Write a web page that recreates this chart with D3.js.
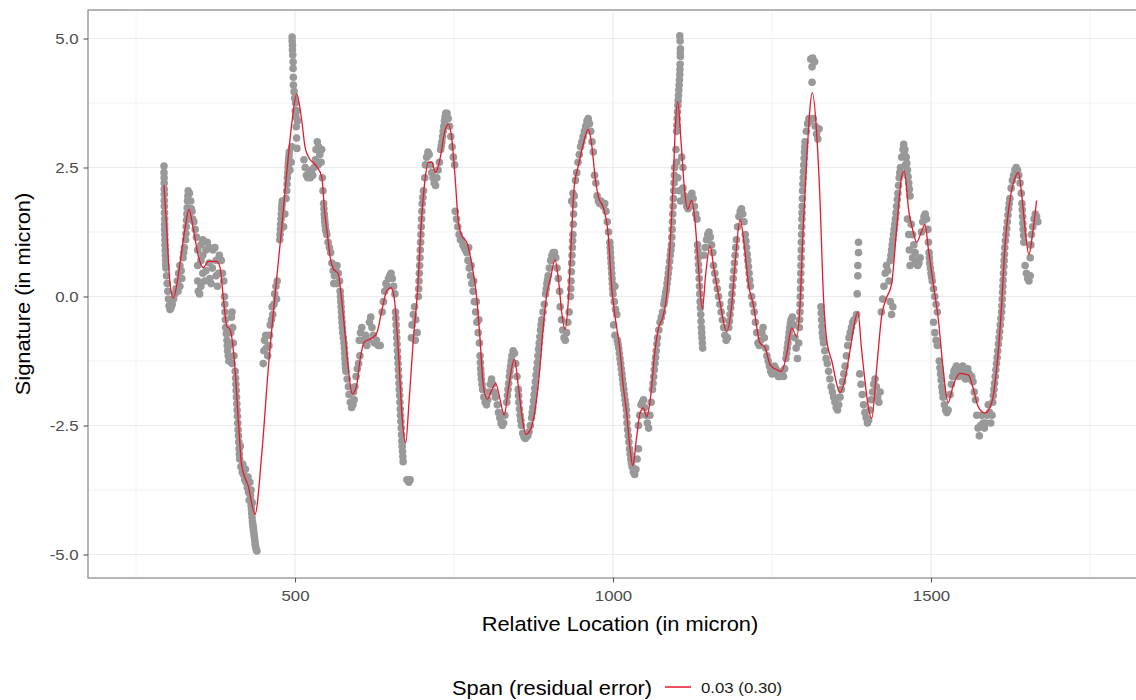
<!DOCTYPE html>
<html><head><meta charset="utf-8">
<script src="https://cdn.jsdelivr.net/npm/d3@7"></script>
<style>body{margin:0;background:#fff}svg{display:block}</style>
</head><body>
<svg id="chart" width="1136" height="700"></svg>
<script>
// ---- data ----
const xTickValues = [500, 1000, 1500];
const xMinorValues = [250, 750, 1250, 1750];
const yTickValues = [-5, -2.5, 0, 2.5, 5];
const yMinorValues = [-3.75, -1.25, 1.25, 3.75];
const xTitle = "Relative Location (in micron)";
const yTitle = "Signature (in micron)";
const legendTitle = "Span (residual error)";
const legendLabel = "0.03 (0.30)";

// loess fit (span 0.03)
const fitX = [294,298.2,303.5,308.7,319.2,327,333.3,340,348,355.8,363.7,376.9,382,387.3,392.6,397.8,405.6,410.9,416.2,426.6,437.1,447.6,458,468.6,479,487,494.8,502.6,510.5,515.7,521,534,542,547,551,555,560,568,573,578.6,583.8,590,597,602,609,620.6,628.5,636,644,650.9,656,662.5,668.8,674,679.2,686,693,698,704.4,709.6,715,721,728,735.8,741,746.4,751.6,756.8,762,770,777.8,785.7,791,796,802.4,809,815.6,822.3,829,835.4,845,851,856.3,863,869.5,877.4,885,890.4,895.7,902,908.8,915,919.3,924.5,930,934,939,945.4,953,961,966.5,971.7,977,984.8,992.6,998,1003,1011,1016,1021.5,1026.7,1031,1037,1042.5,1047.7,1053,1058,1066,1071,1079,1084.4,1089.6,1095,1097.5,1101.7,1107,1112,1117.5,1123.7,1129,1134,1140.5,1145.8,1152.5,1159,1168,1178.8,1186.6,1193,1199.7,1206.6,1213,1220.8,1231,1239,1247,1257.4,1265,1273,1281,1289,1294,1299,1304.6,1313.4,1320,1325.5,1331,1336,1344,1357,1365,1372.6,1385,1391,1406.8,1414.6,1422.5,1430,1438,1446,1454,1458,1465,1472,1477.5,1484,1490.6,1496,1503.6,1511.5,1519,1527,1535,1545.6,1558.7,1566.6,1574,1585,1595.4,1603.3,1610,1616.4,1624,1631,1637.3,1643.6,1649,1654,1659.3,1666];
const fitY = [2.16,1.32,0.24,-0.03,0.64,1.32,1.69,1.32,0.78,0.56,0.68,0.68,0.57,-0.03,-0.57,-0.64,-1.39,-2.4,-3.28,-3.68,-4.22,-3.07,-1.39,0.03,1.32,2.4,3.34,3.92,3.42,2.9,2.71,2.52,2.32,1.59,1.2,0.78,0.54,0.44,-0.03,-0.71,-1.39,-1.89,-1.72,-1.25,-0.88,-0.81,-0.71,-0.3,0.1,0.17,-0.03,-1.05,-2.4,-2.84,-2.06,-0.84,0.17,1.32,2.26,2.6,2.6,2.4,2.67,3.21,3.34,3.07,2.33,1.45,1.18,1.05,0.64,-0.03,-0.84,-1.72,-1.99,-1.82,-1.69,-1.99,-2.3,-1.79,-1.22,-1.72,-2.26,-2.67,-2.6,-2.2,-1.39,-0.57,0.03,0.37,0.71,0.24,-0.3,-0.64,-0.03,0.98,2.13,2.53,2.94,3.24,2.94,2.33,1.93,1.72,1.18,0.17,-0.37,-1.05,-1.72,-2.26,-2.94,-3.28,-2.74,-2.26,-2.16,-2.33,-2.06,-1.05,-0.64,-0.37,0.03,0.98,2.33,3.14,3.78,3.0,2.13,1.69,1.86,1.45,0.64,-0.24,0.44,0.98,0.51,-0.1,-0.68,-0.17,0.78,1.49,0.98,0.24,-0.17,-0.9,-0.98,-1.32,-1.42,-1.45,-1.12,-0.61,-0.78,-0.17,1.32,2.67,3.95,3.21,1.86,-0.03,-0.84,-1.25,-1.86,-1.59,-1.05,-0.3,-1.05,-2.36,-1.39,-0.37,-0.03,0.24,1.32,2.33,2.43,1.66,1.25,1.05,1.22,1.39,0.91,0.24,-0.44,-1.39,-2.06,-1.72,-1.49,-1.52,-1.79,-2.13,-2.26,-2.06,-1.39,-0.37,0.98,1.86,2.26,2.4,1.86,1.18,0.81,1.18,1.86];

// observed signature points [location, signature]
const observed = [
[294,2.53],[294,2.4],[294.3,2.2],[294.5,1.98],[294.6,1.75],[295,1.5],[295,1.3],[295.5,1.1],[296,0.9],[296.5,0.7],[297,0.55],[298,0.4],[299,0.25],[300,0.1],[301,-0.05],[302,-0.18],[303.5,-0.25],[305,-0.22],[307,-0.15],[309,-0.05],[311,0.05],[313,0.15],[315,0.3],[317,0.45],[319,0.6],[321,0.5],[316,0.1],[319,0.2],[322,0.35],[324,0.75],[326,0.95],[328,1.1],[329,1.35],[330,1.6],[331,1.85],[332,2.05],[334,2.0],[336,1.85],[337,1.7],[338,1.65],[339,1.5],[333,1.6],[335,1.5],
[294.2,2.3],[294.4,2.08],[294.5,1.86],[294.8,1.62],[295,1.4],[295.2,1.2],[295.7,1.0],[296.2,0.8],[296.8,0.62],
[325,0.85],[328.5,1.22],[329.5,1.48],[330.5,1.72],[331.5,1.95],
[341,1.45],[343,1.3],[345,1.15],[347,0.9],[347,0.6],[347,0.3],[348,0.1],[350,0.05],[352,0.2],[352,0.7],[352,1.0],[355,1.1],[355,0.8],[355,0.45],[358,0.3],[360,0.5],[360,0.9],[362,1.05],[365,0.95],[365,0.65],[366,0.35],[368,0.25],[370,0.55],[371,0.9],[374,0.95],[376,0.7],[376,0.4],[378,0.2],[380,0.45],[381,0.8],[384,0.7],[386,0.45],[388,0.3],
[389,0.0],[390,-0.3],[391,-0.6],[393,-0.85],[394,-1.05],[396,-1.25],[397,-0.95],[399,-0.7],[400,-0.4],[401,-0.3],[402,-0.6],[403,-0.9],[404,-1.15],[401,-1.3],
[389.5,-0.15],[390.5,-0.45],[392,-0.72],[393.5,-0.95],[395,-1.15],
[406,-1.45],[407,-1.7],[408,-1.95],[409,-2.2],[410,-2.45],[411,-2.7],
[406.5,-1.58],[407.5,-1.82],[408.5,-2.08],[409.5,-2.32],[410.5,-2.58],[411.5,-2.82],[412.5,-3.05],
[412,-2.95],[413,-3.15],[414,-2.9],[415,-3.3],[417,-3.4],[418,-3.25],[419,-3.45],[421,-3.55],[422,-3.35],[423,-3.6],[425,-3.7],[426,-3.5],[427,-3.8],[428,-3.95],[429,-3.6],
[430,-3.85],[431,-4.05],[431,-3.75],[432,-4.2],[433,-4.35],[433,-4.0],[434,-4.45],[435,-4.55],[436,-4.65],[437,-4.75],[438,-4.85],[440,-4.93],
[430.5,-3.95],[431.5,-4.12],[432.5,-4.28],[433.5,-4.4],[434.5,-4.5],[435.5,-4.6],[436.5,-4.7],[437.5,-4.8],[439,-4.9],
[450,-1.3],[451,-1.05],[452,-0.85],[454,-0.75],[455,-1.0],[457,-1.15],[459,-0.95],[460,-0.75],[461,-0.55],
[463,-0.45],[464,-0.2],[465,-0.35],[467,-0.15],[468,0.05],[470,0.2],[472,0.3],[471,-0.05],
[476,1.1],[477,1.3],[478,1.5],[479,1.7],[480,1.85],[482,1.35],[484,1.6],[486,1.9],
[476.5,1.2],[477.5,1.4],[478.5,1.6],[479.5,1.78],
[487,2.05],[488,2.3],[489,2.5],[490,2.65],[491,2.8],[492,2.45],[494,2.6],[495,2.9],
[487.5,2.18],[488.5,2.4],[489.5,2.58],[490.5,2.72],
[495.5,5.03],[495.5,4.95],[496,4.87],[496.5,4.68],[497,4.42],[497.5,4.1],[499.5,3.84],[500.5,3.6],[501.5,3.48],[502,3.29],[502.5,3.07],[503,2.87],[501,3.75],[503,3.6],[504,3.4],
[496,4.78],[497,4.55],[497.3,4.25],[498.5,3.97],
[514,2.65],[516,2.5],[518,2.35],[520,2.3],[522,2.4],[524,2.3],[526,2.45],[528,2.35],[530,2.5],[532,2.65],[533,2.85],[535,3.0],[537,2.9],[539,2.75],[541,2.6],[542,2.85],[536,2.55],[543,2.3],[544,2.05],
[545,1.8],[546,1.6],[547,1.45],[548,1.3],[550,1.2],[552,1.05],[554,0.95],[556,0.85],
[545.5,1.7],[546.5,1.52],[547.5,1.38],[549,1.25],
[558,0.65],[560,0.5],[562,0.4],[564,0.55],[566,0.6],[568,0.45],[570,0.3],[566,0.25],[561,0.25],
[571,0.1],[572,-0.1],[573,-0.3],[574,-0.5],[575,-0.7],[577,-0.9],[578,-1.1],[579,-1.3],[580,-1.45],[582,-1.6],
[571.5,0.0],[572.5,-0.2],[573.5,-0.4],[574.5,-0.6],[576,-0.8],[577.5,-1.0],[578.5,-1.2],[579.5,-1.38],
[584,-1.75],[585,-1.9],[587,-2.05],[589,-2.15],[591,-2.1],[593,-2.0],[592,-1.85],[594,-1.75],
[596,-1.55],[598,-1.4],[600,-1.3],[602,-1.15],[601,-0.85],[603,-0.7],[605,-0.6],[607,-0.85],
[611,-0.75],[613,-0.95],[615,-0.85],[617,-0.5],[619,-0.4],[621,-0.6],[623,-0.75],[625,-0.9],[628,-0.85],[631,-0.95],[634,-0.95],
[637,-0.3],[639,-0.1],[641,0.1],[643,0.25],[645,0.2],[647,0.35],[649,0.4],[651,0.45],[653,0.35],[655,0.2],[657,0.05],
[658,-0.3],[659,-0.55],[660,-0.8],[661,-1.05],[662,-1.3],[663,-1.55],[664,-1.8],[665,-2.05],[666,-2.3],[667,-2.55],[668,-2.8],[669,-3.0],[670,-3.2],
[658.5,-0.42],[659.5,-0.68],[660.5,-0.92],[661.5,-1.18],[662.5,-1.42],[663.5,-1.68],[664.5,-1.92],[665.5,-2.18],[666.5,-2.42],[667.5,-2.68],[668.5,-2.9],[669.5,-3.1],
[676,-3.55],[679,-3.6],[681,-3.55],
[683,-0.8],[684,-0.55],[686,-0.35],[688,-0.2],[690,-0.45],[692,-0.7],[689,-0.85],
[694,0.0],[695,0.3],[696,0.6],[697,0.9],[698,1.2],[699,1.5],[700,1.8],
[694.5,0.15],[695.5,0.45],[696.5,0.75],[697.5,1.05],[698.5,1.35],[699.5,1.65],[701,1.92],
[702,2.05],[704,2.3],[705,2.55],[707,2.7],[709,2.8],[711,2.75],[713,2.55],[715,2.4],[717,2.3],[719,2.2],[721,2.15],[723,2.3],[725,2.45],[727,2.6],
[729,2.85],[731,3.0],[733,3.2],[735,3.4],[737,3.55],[739,3.55],[741,3.45],[743,3.3],[745,3.1],[747,2.9],[749,2.7],[751,2.55],
[730,2.92],[732,3.1],[734,3.3],[736,3.48],
[752,1.65],[754,1.5],[756,1.35],[758,1.2],[760,1.1],
[762,1.1],[764,1.0],[766,0.95],[768,0.9],
[770,0.85],[772,0.7],[774,0.55],[776,0.4],[778,0.25],[780,0.1],[782,-0.1],[784,-0.3],[786,-0.5],[788,-0.7],[790,-0.9],[773,0.95],[777,0.6],[781,0.3],[785,-0.1],[789,-0.45],
[791,-1.15],[792,-1.4],[793,-1.6],[795,-1.8],[797,-1.95],[799,-2.05],
[791.5,-1.28],[792.5,-1.5],[794,-1.7],
[801,-2.1],[803,-2.0],[805,-1.85],[807,-1.7],[809,-1.6],[811,-1.7],[813,-1.85],[815,-1.95],
[818,-2.1],[820,-2.25],[822,-2.35],[824,-2.45],[826,-2.5],[828,-2.45],[830,-2.3],
[833,-2.05],[835,-1.8],[837,-1.55],[839,-1.35],[841,-1.15],[843,-1.05],[845,-1.1],[847,-1.3],[849,-1.55],
[834,-1.92],[836,-1.68],[838,-1.45],[840,-1.25],
[851,-1.8],[852,-2.05],[854,-2.3],[856,-2.5],[858,-2.65],[860,-2.72],[862,-2.75],[864,-2.72],[866,-2.7],[868,-2.62],[870,-2.5],
[851.5,-1.92],[853,-2.18],[855,-2.4],
[872,-2.35],[874,-2.15],[876,-1.9],[878,-1.65],[880,-1.4],[882,-1.15],[884,-0.9],[886,-0.65],[888,-0.45],[890,-0.3],[892,-0.15],
[873,-2.25],[875,-2.02],[877,-1.78],[879,-1.52],[881,-1.28],[883,-1.02],[885,-0.78],[887,-0.55],
[894,0.05],[896,0.25],[898,0.4],[900,0.55],[902,0.7],[904,0.8],[906,0.85],[908,0.85],[910,0.75],[912,0.55],[914,0.35],[916,0.1],
[895,0.15],[897,0.32],
[917,-0.2],[919,-0.45],[921,-0.65],[923,-0.8],[925,-0.85],[927,-0.7],[929,-0.5],[931,-0.3],
[933,0.0],[934,0.3],[935,0.65],[936,0.95],[937,1.2],[938,1.6],[939,1.95],[935,1.85],[937,2.0],
[933.5,0.15],[934.5,0.48],[935.5,0.8],[936.5,1.08],[937.5,1.4],[938.5,1.78],
[941,2.25],[943,2.4],[945,2.6],[947,2.75],[949,2.9],[951,3.0],[953,3.1],[955,3.2],[957,3.3],[959,3.4],[961,3.45],[963,3.35],[965,3.2],[967,3.0],[969,2.8],
[971,2.35],[973,2.2],
[975,1.95],[977,1.85],[979,1.8],[981,1.85],[983,1.8],[985,1.75],[987,1.8],[989,1.65],[991,1.45],[993,1.25],
[995,1.05],[996,0.85],[997,0.65],
[995.5,0.95],[996.5,0.75],[997.5,0.55],[998.5,0.35],[999.5,0.15],
[998,0.45],[999,0.25],[1000,0.05],[1002,-0.1],[1004,-0.25],[1006,-0.35],[1003,0.2],
[1001,-0.55],[1003,-0.75],
[1007,-0.85],[1009,-1.0],[1011,-1.2],[1013,-1.4],[1015,-1.6],[1017,-1.8],[1019,-2.0],[1021,-2.2],
[1008,-0.92],[1010,-1.1],[1012,-1.3],[1014,-1.5],[1016,-1.7],[1018,-1.9],[1020,-2.1],[1021.5,-2.32],[1023,-2.58],[1025,-2.82],[1027,-3.05],[1029,-3.22],
[1022,-2.45],[1024,-2.7],[1026,-2.95],[1028,-3.15],[1030,-3.3],[1032,-3.4],[1034,-3.45],[1036,-3.35],[1038,-3.15],[1040,-2.95],
[1040,-2.5],[1042,-2.3],[1044,-2.1],[1046,-2.05],[1048,-2.0],[1050,-2.15],[1052,-2.3],[1054,-2.45],[1056,-2.55],[1058,-2.3],[1060,-2.05],
[1062,-1.8],[1064,-1.55],[1066,-1.3],[1068,-1.05],[1070,-0.8],[1072,-0.65],[1074,-0.5],[1076,-0.4],[1078,-0.3],
[1063,-1.68],[1065,-1.42],[1067,-1.18],[1069,-0.92],
[1080,-0.15],[1082,0.0],[1084,0.15],[1086,0.35],[1088,0.55],[1090,0.8],[1092,1.0],
[1081,-0.08],[1083,0.08],[1085,0.25],[1087,0.45],[1089,0.68],[1091,0.9],
[1093,1.3],[1094,1.6],[1095,1.9],[1096,2.2],[1097,2.5],
[1092.5,1.15],[1093.5,1.45],[1094.5,1.75],[1095.5,2.05],[1096.5,2.35],
[1099,2.85],[1100,2.6],[1102,2.3],[1104,2.05],[1106,1.85],
[1105,5.05],[1105.5,4.95],[1106,4.8],[1106,4.65],[1105.5,4.5],[1105,4.3],[1104,4.1],[1103,3.9],[1102,3.7],[1101,3.45],[1100,3.2],
[1105.8,4.72],[1105.2,4.4],[1104.5,4.2],[1103.5,4.0],[1102.5,3.8],[1101.5,3.58],[1100.5,3.32],
[1108,2.7],[1110,2.5],
[1110,2.1],[1112,1.95],[1114,1.85],[1116,1.75],[1118,1.7],[1120,1.85],[1122,1.95],[1124,2.0],[1126,1.9],[1128,1.75],[1130,1.6],[1132,1.5],
[1133,1.0],[1134,0.75],[1135,0.5],[1136,0.2],[1137,-0.1],[1138,-0.35],[1139,-0.6],[1140,-0.8],[1141,-1.0],
[1133.5,0.88],[1134.5,0.62],[1135.5,0.35],[1136.5,0.05],[1137.5,-0.22],[1138.5,-0.48],[1139.5,-0.7],[1140.5,-0.9],
[1143,0.8],[1145,0.95],[1147,1.1],[1149,1.2],[1151,1.25],[1153,1.15],[1155,1.0],[1157,0.85],
[1158,0.6],[1160,0.45],[1162,0.3],[1164,0.15],[1166,0.0],[1168,-0.15],[1170,-0.3],[1172,-0.45],[1174,-0.6],[1176,-0.75],[1178,-0.85],[1180,-0.8],
[1182,-0.6],[1184,-0.35],[1186,-0.1],[1188,0.2],[1190,0.5],[1192,0.8],[1194,1.1],
[1183,-0.48],[1185,-0.22],[1187,0.05],[1189,0.35],[1191,0.65],[1193,0.95],
[1196,1.35],[1198,1.55],[1200,1.65],[1202,1.7],[1204,1.6],[1206,1.45],
[1208,1.2],[1210,0.95],[1212,0.7],[1214,0.45],[1216,0.2],[1218,0.0],[1220,-0.15],[1222,-0.3],[1224,-0.5],[1226,-0.7],[1228,-0.9],
[1209,1.08],[1211,0.82],[1213,0.58],[1215,0.32],
[1230,-0.95],[1232,-0.85],[1234,-0.7],[1236,-0.6],[1238,-0.8],[1240,-1.0],
[1242,-1.15],[1244,-1.25],[1246,-1.35],[1248,-1.45],[1250,-1.5],[1252,-1.45],[1254,-1.35],[1256,-1.4],[1258,-1.5],[1260,-1.55],[1262,-1.55],[1264,-1.5],[1266,-1.45],[1268,-1.55],[1270,-1.4],
[1272,-1.2],[1274,-1.0],[1276,-0.8],[1278,-0.6],[1280,-0.45],[1282,-0.4],[1284,-0.55],[1286,-0.8],[1288,-1.0],[1290,-1.2],[1292,-0.9],
[1273,-1.1],[1275,-0.9],[1277,-0.7],[1279,-0.52],
[1293,-0.6],[1294,-0.3],[1294.5,0.0],[1295,0.3],[1295.5,0.6],[1296,0.9],[1296.5,1.2],[1297,1.5],[1297.5,1.75],
[1293.5,-0.45],[1294.2,-0.15],[1294.8,0.15],[1295.2,0.45],[1295.8,0.75],[1296.2,1.05],[1296.8,1.35],[1297.2,1.62],[1297.8,1.9],
[1298,2.05],[1299,2.3],[1300,2.55],[1301,2.8],[1302,3.0],
[1298.5,2.18],[1299.5,2.42],[1300.5,2.68],[1301.5,2.9],
[1304,3.2],[1306,3.35],[1308,3.45],[1310,3.4],[1315,3.45],[1318,3.3],[1320,3.15],[1322,3.05],[1324,3.25],
[1311,4.6],[1314,4.62],[1317,4.55],[1313,4.45],[1313,4.15],
[1327,-0.2],[1328,-0.45],[1329,-0.7],[1331,-0.9],
[1327.5,-0.32],[1328.5,-0.58],[1330,-0.8],
[1333,-1.05],[1335,-1.2],[1337,-1.3],[1339,-1.45],[1341,-1.6],[1343,-1.75],[1345,-1.85],[1347,-1.95],[1349,-2.05],[1351,-2.15],[1353,-2.2],[1355,-2.1],[1357,-1.95],[1359,-1.8],[1361,-1.65],[1363,-1.5],[1365,-1.35],
[1367,-1.15],[1369,-0.95],[1371,-0.8],[1373,-0.7],[1375,-0.6],[1377,-0.5],[1379,-0.45],
[1383,-0.35],[1384,0.05],[1385,0.4],[1385,0.6],[1386,0.85],[1386,1.05],
[1388,-1.5],[1390,-1.7],[1392,-1.9],[1394,-2.1],[1396,-2.25],[1398,-2.35],[1400,-2.45],[1402,-2.4],[1404,-2.2],
[1406,-2.0],[1408,-1.85],[1410,-1.7],[1412,-1.6],[1414,-1.75],[1416,-1.95],[1418,-2.05],[1420,-1.85],
[1422,-0.3],[1424,-0.05],[1426,0.2],[1428,0.45],[1430,0.6],[1432,0.5],[1434,0.3],
[1436,-0.1],[1438,-0.35],[1440,-0.2],[1436,0.7],[1438,0.9],[1440,1.1],[1442,1.3],[1444,1.5],[1446,1.75],[1448,2.0],[1450,2.3],[1452,2.5],[1454,2.7],[1456,2.85],[1458,2.75],[1460,2.55],[1462,2.35],
[1437,0.8],[1439,1.0],[1441,1.2],[1443,1.4],[1445,1.62],[1447,1.88],[1449,2.15],[1451,2.4],
[1463,1.5],[1465,1.2],[1466,0.9],[1467,0.6],
[1457,2.95],[1459,2.85],[1461,2.7],[1463,2.45],[1465,2.2],[1467,1.95],
[1462,2.58],[1464,2.32],[1466,2.08],
[1469,1.4],[1471,1.2],[1473,1.0],[1475,0.85],[1477,0.7],[1479,0.6],[1481,0.65],[1483,0.75],[1471,0.75],[1475,0.65],
[1485,1.25],[1487,1.45],[1489,1.55],[1491,1.6],[1493,1.5],[1495,1.3],
[1496,1.05],[1497,0.85],[1498,0.65],[1500,0.45],[1502,0.3],[1504,0.15],[1506,0.0],[1508,-0.15],[1510,-0.3],
[1497.5,0.75],[1499,0.55],[1501,0.38],
[1504,-0.5],[1506,-0.7],[1508,-0.85],[1510,-0.95],
[1513,-1.25],[1515,-1.5],[1517,-1.75],[1519,-1.95],[1521,-2.1],[1523,-2.2],[1525,-2.25],[1527,-2.2],
[1514,-1.38],[1516,-1.62],[1518,-1.85],
[1530,-1.9],[1532,-1.7],[1534,-1.55],[1536,-1.45],[1538,-1.4],[1540,-1.35],[1542,-1.45],[1544,-1.55],[1546,-1.5],[1548,-1.4],[1550,-1.35],[1552,-1.45],[1554,-1.6],[1556,-1.5],[1558,-1.4],[1560,-1.5],[1562,-1.6],[1564,-1.55],[1566,-1.65],
[1568,-1.85],[1570,-2.0],[1572,-2.3],[1574,-2.55],[1576,-2.7],[1578,-2.5],[1580,-2.3],[1582,-2.45],[1584,-2.55],[1586,-2.45],[1588,-2.3],[1590,-2.1],[1592,-2.25],[1594,-2.45],[1596,-2.3],
[1597,-2.05],[1599,-1.8],[1601,-1.55],[1603,-1.3],[1605,-1.05],[1607,-0.8],[1609,-0.55],[1611,-0.3],
[1598,-1.92],[1600,-1.68],[1602,-1.42],[1604,-1.18],[1606,-0.92],[1608,-0.68],[1610,-0.42],[1611.5,-0.18],
[1612,-0.05],[1613,0.2],[1614,0.45],[1615,0.7],[1616,0.95],[1618,1.2],[1620,1.45],[1622,1.7],[1624,1.9],
[1612.5,0.08],[1613.5,0.32],[1614.5,0.58],[1615.5,0.82],[1617,1.08],[1619,1.32],[1621,1.58],[1623,1.8],
[1626,2.1],[1628,2.25],[1630,2.35],[1632,2.45],[1634,2.5],[1636,2.45],[1638,2.35],[1640,2.2],[1642,2.0],
[1643,1.8],[1644,1.55],[1645,1.3],[1646,1.05],
[1643.5,1.68],[1644.5,1.42],[1645.5,1.18],
[1648,0.6],[1650,0.45],[1652,0.35],[1654,0.3],[1656,0.4],[1656,0.75],[1657,1.0],
[1658,1.2],[1660,1.35],[1662,1.5],[1664,1.6],[1666,1.55],[1668,1.45]
];

// ---- layout ----
const W = 1136, H = 700;
const panel = {left: 88, top: 10, right: 1152, bottom: 578};
const FONT = "'Liberation Sans', Arial, Helvetica, sans-serif";
const STRETCH = 1.12;

const svg = d3.select("#chart");
svg.append("rect").attr("width", W).attr("height", H).attr("fill", "#fff");

const x = d3.scaleLinear().domain([174.5, 1847.5]).range([panel.left, panel.right]);
const y = d3.scaleLinear().domain([-5.455, 5.552]).range([panel.bottom, panel.top]);

svg.append("defs").append("clipPath").attr("id", "clip")
  .append("rect").attr("x", panel.left).attr("y", panel.top)
  .attr("width", panel.right - panel.left).attr("height", panel.bottom - panel.top);

// grid
const grid = svg.append("g");
grid.selectAll(".vmin").data(xMinorValues).join("line")
  .attr("x1", d => x(d)).attr("x2", d => x(d)).attr("y1", panel.top).attr("y2", panel.bottom)
  .attr("stroke", "#f2f2f2").attr("stroke-width", 1);
grid.selectAll(".hmin").data(yMinorValues).join("line")
  .attr("x1", panel.left).attr("x2", panel.right).attr("y1", d => y(d)).attr("y2", d => y(d))
  .attr("stroke", "#f2f2f2").attr("stroke-width", 1);
grid.selectAll(".vmaj").data(xTickValues).join("line")
  .attr("x1", d => x(d)).attr("x2", d => x(d)).attr("y1", panel.top).attr("y2", panel.bottom)
  .attr("stroke", "#ebebeb").attr("stroke-width", 1.2);
grid.selectAll(".hmaj").data(yTickValues).join("line")
  .attr("x1", panel.left).attr("x2", panel.right).attr("y1", d => y(d)).attr("y2", d => y(d))
  .attr("stroke", "#ebebeb").attr("stroke-width", 1.2);

// points
const plot = svg.append("g").attr("clip-path", "url(#clip)");
plot.selectAll("circle").data(observed).join("circle")
  .attr("cx", d => x(d[0])).attr("cy", d => y(d[1])).attr("r", 3.8)
  .attr("fill", "#999999");

// fit line
const fitData = fitX.map((v, i) => [v, fitY[i]]);
plot.append("path").datum(fitData)
  .attr("fill", "none").attr("stroke", "#e8192c").attr("stroke-width", 1.3)
  .attr("d", d3.line().x(d => x(d[0])).y(d => y(d[1])).curve(d3.curveMonotoneX));

// panel border
svg.append("rect").attr("x", panel.left).attr("y", panel.top)
  .attr("width", panel.right - panel.left).attr("height", panel.bottom - panel.top)
  .attr("fill", "none").attr("stroke", "#8f8f8f").attr("stroke-width", 1.3);

// axes
const fmtY = d => d.toFixed(1);
const gx = svg.append("g").attr("transform", `translate(0,${panel.bottom})`)
  .call(d3.axisBottom(x).tickValues(xTickValues).tickFormat(d => String(d)).tickSize(4.5).tickPadding(7.8));
const gy = svg.append("g").attr("transform", `translate(${panel.left},0)`)
  .call(d3.axisLeft(y).tickValues(yTickValues).tickFormat(fmtY).tickSize(4.5));
[gx, gy].forEach(g => {
  g.select(".domain").remove();
  g.selectAll(".tick line").attr("stroke", "#555").attr("stroke-width", 1.1);
  g.selectAll(".tick text").attr("fill", "#4d4d4d").style("font-family", FONT).style("font-size", "15px");
});
gx.selectAll(".tick text").attr("transform", `scale(${STRETCH},1)`);
gy.selectAll(".tick text").attr("x", -9.4 / STRETCH).attr("dy", "0.34em").attr("transform", `scale(${STRETCH},1)`);

// titles
svg.append("text").attr("transform", `translate(620,630.5) scale(${STRETCH},1)`)
  .attr("text-anchor", "middle").style("font-family", FONT).style("font-size", "19.5px")
  .attr("fill", "#000").text(xTitle);
svg.append("text").attr("transform", `translate(29.5,${(panel.top + panel.bottom) / 2}) rotate(-90) scale(${STRETCH},1)`)
  .attr("text-anchor", "middle").style("font-family", FONT).style("font-size", "19.5px")
  .attr("fill", "#000").text(yTitle);

// legend
const leg = svg.append("g");
leg.append("text").attr("transform", `translate(452,694.5) scale(${STRETCH},1)`)
  .style("font-family", FONT).style("font-size", "19.5px").attr("fill", "#000").text(legendTitle);
leg.append("line").attr("x1", 665).attr("x2", 691).attr("y1", 687).attr("y2", 687)
  .attr("stroke", "#e8192c").attr("stroke-width", 1.5);
leg.append("text").attr("transform", `translate(701,692.5) scale(${STRETCH},1)`)
  .style("font-family", FONT).style("font-size", "15px").attr("fill", "#1a1a1a").text(legendLabel);
</script>
</body></html>
